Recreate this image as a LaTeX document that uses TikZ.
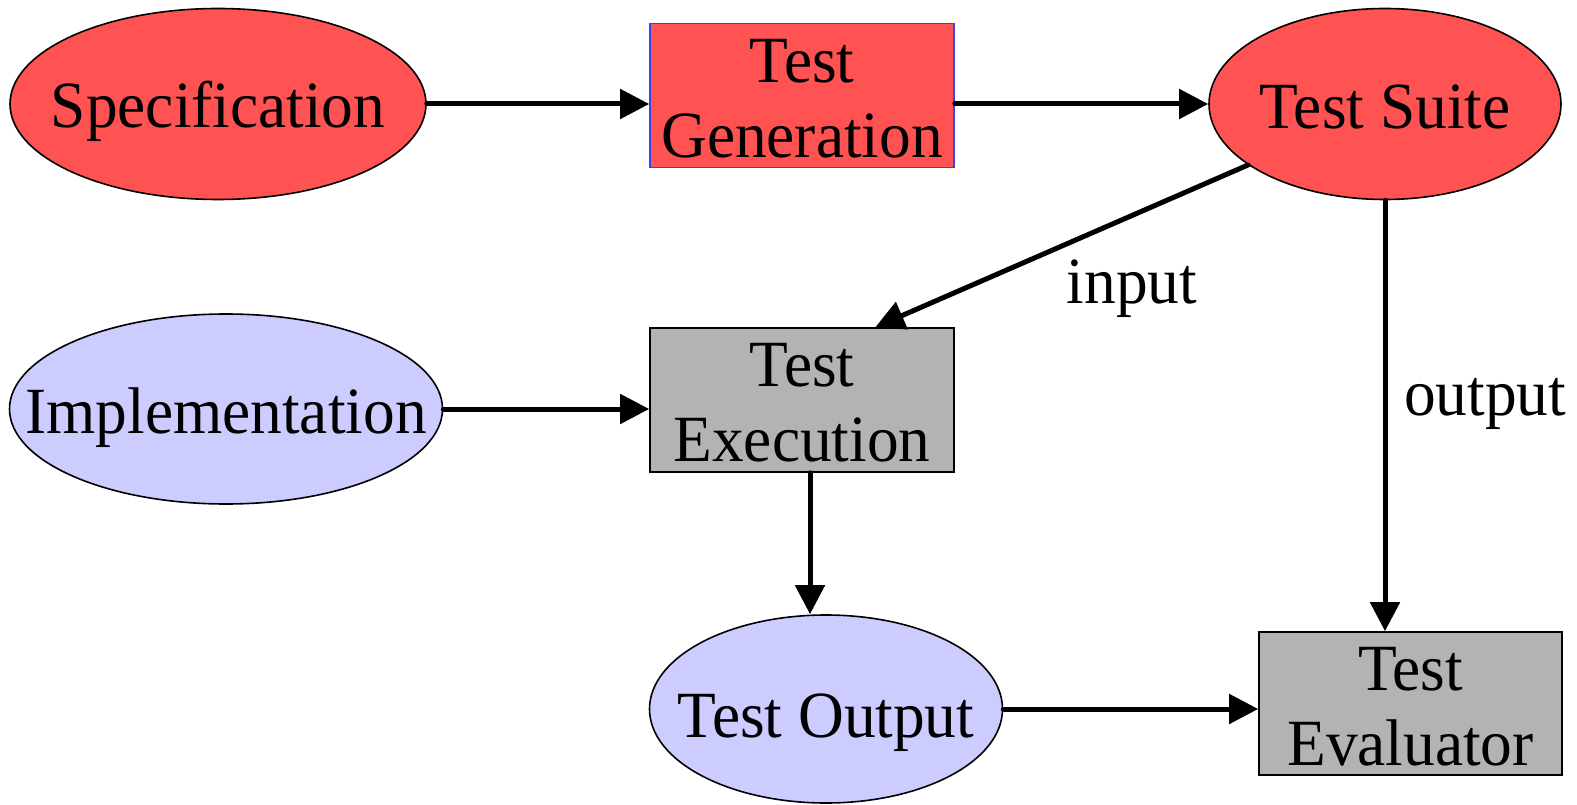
\documentclass[tikz,border=0pt]{standalone}
\usepackage{fontspec}
\setmainfont[FakeStretch=0.96]{Liberation Serif}
\usetikzlibrary{shapes.geometric,arrows.meta,calc}

\definecolor{redfill}{RGB}{255,82,82}
\definecolor{lavfill}{RGB}{204,204,255}
\definecolor{grayfill}{RGB}{179,179,179}
\definecolor{genborder}{RGB}{64,64,224}

\newcommand{\firstline}{\rule{0pt}{49pt}}

\begin{document}
\begin{tikzpicture}[x=1pt,y=-1pt,
  every node/.style={font=\fontsize{66}{75}\selectfont},
  blob/.style={ellipse,draw=black,line width=1.6pt,inner sep=0pt,
    text height=48pt,text depth=0pt},
  stagebox/.style={rectangle,draw=black,line width=1.6pt,inner sep=0pt,
    align=center,minimum width=304pt,minimum height=144pt},
  flow/.style={line width=5pt,line cap=round,
    -{Triangle[length=29pt,width=29pt]}},
  edgelabel/.style={anchor=base,inner sep=0pt}]

\useasboundingbox (0,0) rectangle (1577,805);

% ovals: documents and artefacts
\node[blob,fill=redfill,minimum width=416pt,minimum height=191pt] (spec)
  at (218,104) {\makebox[0pt]{Specification}};
\node[blob,fill=redfill,minimum width=352pt,minimum height=191pt,
  text height=50pt] (suite)
  at (1385,104) {\makebox[0pt]{Test Suite}};
\node[blob,fill=lavfill,minimum width=433pt,minimum height=190pt] (impl)
  at (226,409) {\makebox[0pt]{Implementation}};
\node[blob,fill=lavfill,minimum width=353pt,minimum height=188pt,
  text height=56pt] (output)
  at (826,709) {\makebox[0pt]{Test Output}};

% boxes: activities
\node[stagebox,fill=redfill,draw=genborder] (gen) at (802,95.5)
  {\firstline Test\\Generation};
\node[stagebox,fill=grayfill] (exec) at (802,400)
  {\firstline Test\\Execution};
\node[stagebox,fill=grayfill,minimum width=303pt,minimum height=143pt] (eval)
  at (1410.5,703.5) {\firstline Test\\Evaluator};

% connectors
\draw[flow] (spec.east) -- (spec.east -| gen.west);
\draw[flow] (suite.west -| gen.east) -- (suite.west);
\draw[flow] (impl.east) -- (impl.east -| exec.west);

\coordinate (inTip) at ($(exec.north west)!0.74!(exec.north east)$);
\draw[flow] (suite.204) -- (inTip);

\draw[flow] (suite.south) -- (suite.south |- eval.north);

\coordinate (execOut) at ($(exec.south)+(8,0)$);
\draw[flow] (execOut) -- (execOut |- output.north);

\draw[flow] (output.east) -- (output.east -| eval.west);

% edge labels
\node[edgelabel] (lblIn) at (1132,303) {input};
\node[edgelabel] (lblOut) at (1485,415) {output};

\end{tikzpicture}
\end{document}
